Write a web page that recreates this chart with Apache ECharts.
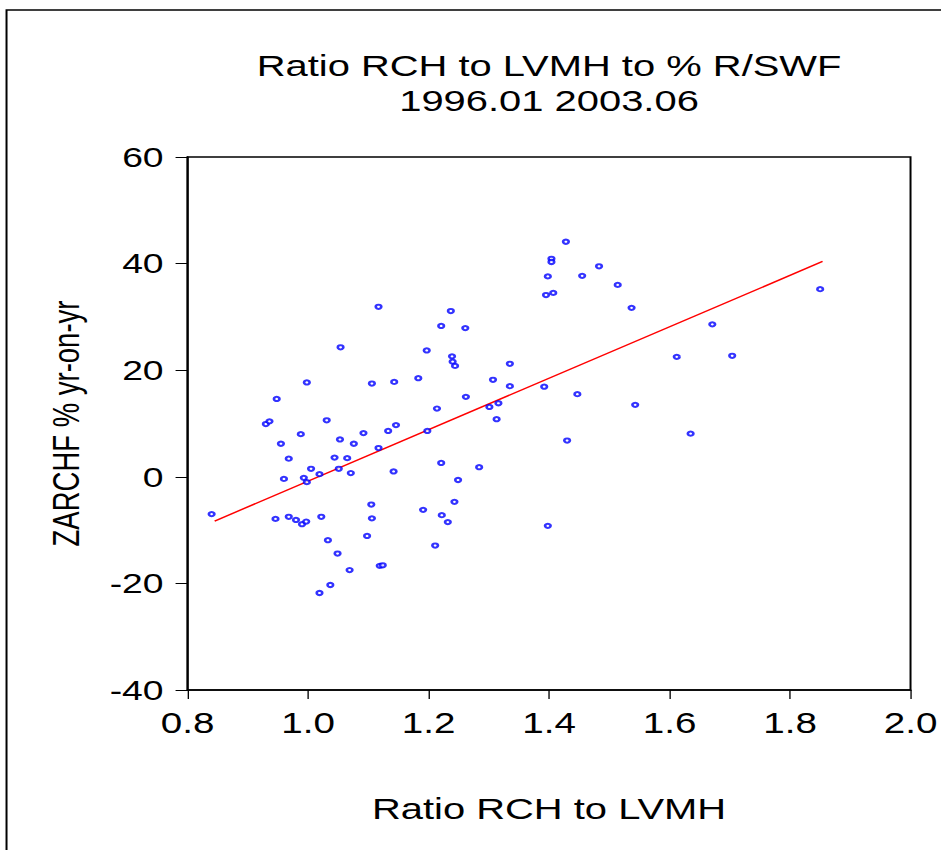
<!DOCTYPE html>
<html>
<head>
<meta charset="utf-8">
<script src="https://cdn.jsdelivr.net/npm/echarts@6/dist/echarts.min.js"></script>
<style>
html,body{margin:0;padding:0;background:#fff;overflow:hidden;}
#c{width:707px;height:850px;transform:scaleX(1.33098);transform-origin:0 0;}
</style>
</head>
<body>
<div id="c"></div>
<script>
const titleLines = ['Ratio RCH to LVMH to % R/SWF', '1996.01 2003.06'];
const xName = 'Ratio RCH to LVMH';
const yName = 'ZARCHF % yr-on-yr';
const xTicks = [0.8, 1.0, 1.2, 1.4, 1.6, 1.8, 2.0];
const yTicks = [-40, -20, 0, 20, 40, 60];

// Ratio RCH to LVMH (x)
const ratioRCH = [
  0.840, 0.930, 0.936, 0.946, 0.948, 0.955, 0.960, 0.968, 0.968, 0.980,
  0.988, 0.990, 0.993, 0.997, 0.998, 0.998, 1.005, 1.019, 1.019, 1.022,
  1.031, 1.033, 1.037, 1.044, 1.049, 1.051, 1.053, 1.054, 1.065, 1.069,
  1.071, 1.076, 1.092, 1.098, 1.105, 1.106, 1.106, 1.117, 1.117, 1.119,
  1.124, 1.133, 1.142, 1.143, 1.146, 1.183, 1.191, 1.197, 1.198, 1.211,
  1.214, 1.221, 1.221, 1.222, 1.232, 1.237, 1.239, 1.240, 1.243, 1.244,
  1.249, 1.261, 1.262, 1.284, 1.301, 1.307, 1.313, 1.316, 1.335, 1.335,
  1.392, 1.395, 1.398, 1.398, 1.404, 1.404, 1.407, 1.428, 1.430, 1.447,
  1.455, 1.483, 1.514, 1.537, 1.543, 1.612, 1.635, 1.671, 1.704, 1.850
];
// ZARCHF % yr-on-yr (y)
const zarchf = [
  -7.0, 9.9, 10.4, -7.9, 14.6, 6.2, -0.4, 3.4, -7.5, -8.1,
  8.0, -8.9, -0.2, -8.4, 17.7, -1.0, 1.5, 0.5, -21.8, -7.5,
  10.6, -11.9, -20.3, 3.6, -14.4, 1.5, 7.0, 24.3, 3.5, -17.5,
  0.7, 6.2, 8.2, -11.1, -5.2, -7.8, 17.5, 31.9, 5.4, -16.7,
  -16.6, 8.6, 1.0, 17.8, 9.7, 18.5, -6.2, 23.7, 8.6, -12.9,
  12.8, 2.6, 28.3, -7.2, -8.5, 31.1, 22.6, 21.6, -4.7, 20.8,
  -0.6, 27.9, 15.0, 1.8, 13.1, 18.2, 10.8, 13.8, 21.2, 17.0,
  16.9, 34.1, 37.6, -9.2, 40.9, 40.3, 34.5, 44.1, 6.8, 15.5,
  37.7, 39.5, 36.0, 31.7, 13.5, 22.5, 8.1, 28.6, 22.7, 35.2
];
// Fitted regression line end points
const fitX = [0.845, 1.854];
const fitY = [-8.3, 40.4];

const FONT = '"Liberation Sans", Arial, sans-serif';
const points = ratioRCH.map((x, i) => [x, zarchf[i]]);
const fitLine = fitX.map((x, i) => [x, fitY[i]]);

const chart = echarts.init(document.getElementById('c'), null, {renderer: 'svg'});
chart.setOption({
  animation: false,
  backgroundColor: '#fff',
  title: {
    text: titleLines.join('\n'),
    left: 412.5,
    top: 48,
    padding: 0,
    textAlign: 'center',
    textStyle: {fontFamily: FONT, fontSize: 30, fontWeight: 'normal', color: '#000', lineHeight: 35}
  },
  graphic: [{
    type: 'rect',
    shape: {x: 4.9, y: 10, width: 1200, height: 1200},
    style: {fill: 'none', stroke: '#000', lineWidth: 1.5},
    silent: true
  }],
  grid: {
    left: 140.9, right: 22.9, top: 157, bottom: 160,
    show: true, borderColor: '#000', borderWidth: 1.5,
    containLabel: false, outerBoundsMode: 'none'
  },
  xAxis: {
    type: 'value',
    min: xTicks[0], max: xTicks[xTicks.length - 1], interval: 0.2,
    name: xName, nameLocation: 'middle', nameGap: 103,
    nameTextStyle: {fontFamily: FONT, fontSize: 30, color: '#000'},
    axisLine: {show: true, onZero: false, lineStyle: {color: '#000', width: 1.5}},
    axisTick: {show: true, length: 9, lineStyle: {color: '#000', width: 1}},
    axisLabel: {show: true, margin: 18, fontFamily: FONT, fontSize: 29, color: '#000',
      formatter: v => v.toFixed(1)},
    splitLine: {show: false}
  },
  yAxis: {
    type: 'value',
    min: yTicks[0], max: yTicks[yTicks.length - 1], interval: 20,
    name: yName, nameLocation: 'middle', nameGap: 77,
    nameTextStyle: {fontFamily: FONT, fontSize: 27.5, color: '#000'},
    axisLine: {show: true, lineStyle: {color: '#000', width: 1.5}},
    axisTick: {show: true, length: 9, lineStyle: {color: '#000', width: 1}},
    axisLabel: {show: true, margin: 18, fontFamily: FONT, fontSize: 28, color: '#000',
      padding: [0, 0, 6, 0]},
    splitLine: {show: false}
  },
  series: [
    {
      type: 'scatter',
      data: points,
      symbol: 'emptyCircle',
      symbolSize: 4.2,
      itemStyle: {color: '#0000ff', borderColor: '#0000ff', borderWidth: 1.4},
      z: 3
    },
    {
      type: 'line',
      data: fitLine,
      showSymbol: false,
      symbol: 'none',
      lineStyle: {color: '#ff0000', width: 1.4},
      itemStyle: {color: '#ff0000'},
      z: 2
    }
  ]
});
</script>
</body>
</html>
